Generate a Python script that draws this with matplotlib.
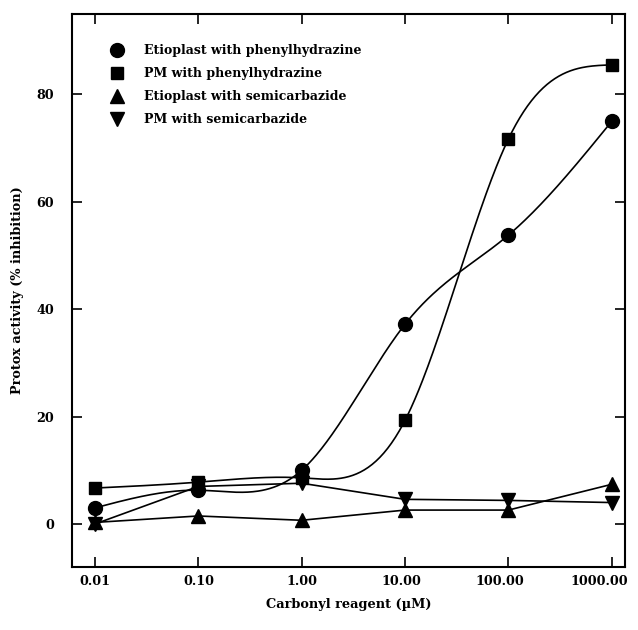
import numpy as np
import matplotlib.pyplot as plt
import matplotlib.transforms as mtransforms

plt.rcParams['font.family'] = ['DejaVu Serif']
plt.rcParams['font.weight'] = 'bold'

# data
conc = [0.01, 0.1, 1.0, 10.0, 100.0, 1000.0]
etio_phenyl = [3.0, 6.3, 10.0, 37.2, 53.8, 75.0]
pm_phenyl = [6.7, 7.8, 8.6, 19.3, 71.7, 85.5]
etio_semi = [0.3, 1.5, 0.7, 2.6, 2.6, 7.4]
pm_semi = [0.0, 7.0, 7.6, 4.6, 4.4, 4.0]

labels = ['Etioplast with phenylhydrazine', 'PM with phenylhydrazine',
          'Etioplast with semicarbazide', 'PM with semicarbazide']


def natural_spline(x, y, xn):
    # natural cubic spline, plain numpy
    x = np.asarray(x, float)
    y = np.asarray(y, float)
    n = len(x)
    h = np.diff(x)
    A = np.zeros((n, n))
    b = np.zeros(n)
    A[0, 0] = A[-1, -1] = 1
    for i in range(1, n - 1):
        A[i, i - 1] = h[i - 1]
        A[i, i] = 2 * (h[i - 1] + h[i])
        A[i, i + 1] = h[i]
        b[i] = 3 * ((y[i + 1] - y[i]) / h[i] - (y[i] - y[i - 1]) / h[i - 1])
    c = np.linalg.solve(A, b)
    out = np.empty_like(xn)
    for k, xv in enumerate(xn):
        i = min(max(np.searchsorted(x, xv) - 1, 0), n - 2)
        dx = xv - x[i]
        bi = (y[i + 1] - y[i]) / h[i] - h[i] * (2 * c[i] + c[i + 1]) / 3
        di = (c[i + 1] - c[i]) / (3 * h[i])
        out[k] = y[i] + bi * dx + c[i] * dx ** 2 + di * dx ** 3
    return out


fig = plt.figure(figsize=(6.38, 6.30), dpi=100)
ax = fig.add_axes([0.113, 0.1, 0.867, 0.878])

lx = np.log10(conc)
xs = np.linspace(lx[0], lx[-1], 400)

ax.plot(10 ** xs, natural_spline(lx, etio_phenyl, xs), 'k-', lw=1.2)
ax.plot(10 ** xs, natural_spline(lx, pm_phenyl, xs), 'k-', lw=1.2)
ax.plot(conc, etio_semi, 'k-', lw=1.2)
ax.plot(conc, pm_semi, 'k-', lw=1.2)

h1, = ax.plot(conc, etio_phenyl, 'ko', ms=10, ls='none', label=labels[0])
h2, = ax.plot(conc, pm_phenyl, 'ks', ms=8.5, ls='none', label=labels[1])
h3, = ax.plot(conc, etio_semi, 'k^', ms=9.5, ls='none', label=labels[2])
h4, = ax.plot(conc, pm_semi, 'kv', ms=9.5, ls='none', label=labels[3])

ax.set_xscale('log')
ax.set_xlim(10 ** -2.22, 10 ** 3.13)
ax.set_ylim(-8, 95)
ax.set_xticks(conc)
ax.set_xticklabels(['0.01', '0.10', '1.00', '10.00', '100.00', '1000.00'])
ax.minorticks_off()
ax.set_yticks([0, 20, 40, 60, 80])
ax.tick_params(direction='in', top=True, right=True, length=7, width=1.2,
               labelsize=9.2)
ax.tick_params(axis='x', pad=6)
ax.tick_params(axis='y', pad=13)
for sp in ax.spines.values():
    sp.set_linewidth(1.5)

# x tick labels sit right-aligned a bit past the tick, as in the original
shift = mtransforms.ScaledTranslation(16 / 100, 0, fig.dpi_scale_trans)
for lab in ax.get_xticklabels():
    lab.set_horizontalalignment('right')
    lab.set_transform(lab.get_transform() + shift)

ax.set_xlabel('Carbonyl reagent (µM)', fontsize=9.3, fontweight='bold', labelpad=7)
ax.set_ylabel('Protox activity (% inhibition)', fontsize=9.3, fontweight='bold', labelpad=9)

ax.legend(handles=[h1, h2, h3, h4], loc='upper left', frameon=False,
          fontsize=9, bbox_to_anchor=(0.05, 0.965), handletextpad=1.6,
          labelspacing=0.8, handlelength=1.0)

fig.savefig('out.png', dpi=100)
